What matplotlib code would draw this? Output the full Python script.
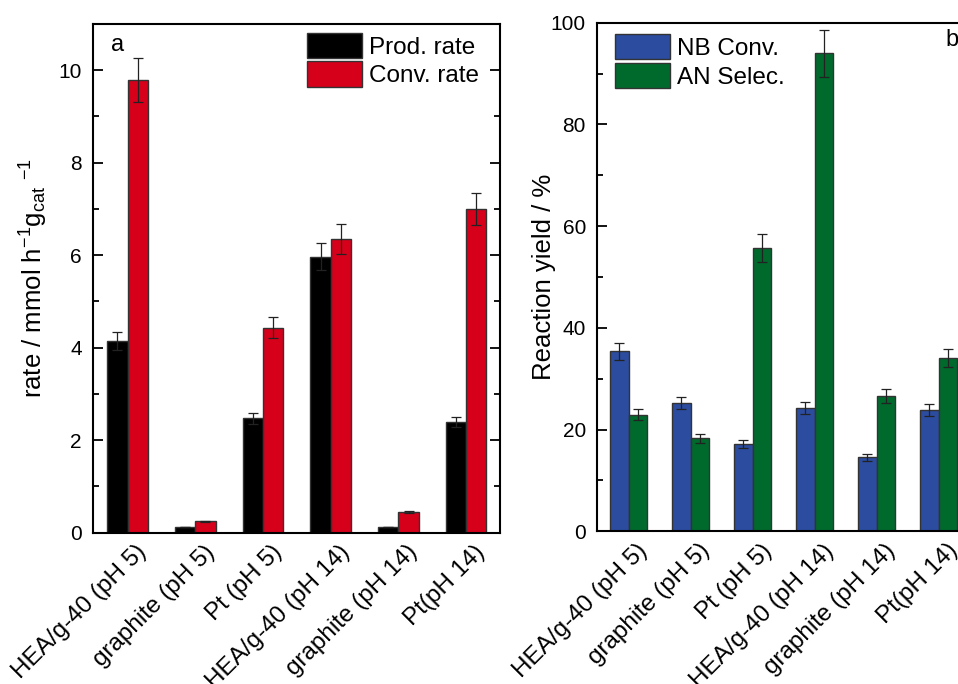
import numpy as np
import matplotlib
matplotlib.use('Agg')
import matplotlib.pyplot as plt
from matplotlib.ticker import MultipleLocator
from matplotlib.transforms import ScaledTranslation

plt.rcParams['font.family'] = ['Liberation Sans', 'DejaVu Sans']
plt.rcParams['mathtext.fontset'] = 'custom'
plt.rcParams['mathtext.rm'] = 'Liberation Sans'
plt.rcParams['mathtext.it'] = 'Liberation Sans'

samples = ['HEA/g-40 (pH 5)', 'graphite (pH 5)', 'Pt (pH 5)',
           'HEA/g-40 (pH 14)', 'graphite (pH 14)', 'Pt(pH 14)']

# panel a: rates (mmol h-1 g_cat-1)
prod_rate = [4.15, 0.12, 2.47, 5.97, 0.12, 2.39]
prod_err = [0.20, 0.0, 0.12, 0.30, 0.0, 0.11]
conv_rate = [9.79, 0.25, 4.43, 6.35, 0.45, 7.00]
conv_err = [0.48, 0.01, 0.23, 0.32, 0.02, 0.35]

# panel b: yields (%)
nb_conv = [35.4, 25.2, 17.2, 24.2, 14.6, 23.8]
nb_err = [1.7, 1.2, 0.85, 1.2, 0.7, 1.2]
an_sel = [22.9, 18.3, 55.7, 94.0, 26.6, 34.1]
an_err = [1.1, 0.9, 2.8, 4.6, 1.4, 1.7]

x = np.arange(1, len(samples) + 1)
w = 0.3
ekw = dict(ecolor='#222222', elinewidth=0.9, capsize=3.8, capthick=0.9)
bar_kw = dict(edgecolor='#333333', linewidth=1.0)
leg_kw = dict(frameon=False, fontsize=17.5, handlelength=2.25, handleheight=1.25,
              labelspacing=0.12, handletextpad=0.3, borderpad=0.15)

fig = plt.figure(figsize=(9.58, 6.84), dpi=100)
ax1 = fig.add_axes([0.0971, 0.2212, 0.4248, 0.7437])
ax2 = fig.add_axes([0.6232, 0.2232, 0.389, 0.7436])


def style(ax):
    for s in ax.spines.values():
        s.set_linewidth(1.5)
    ax.tick_params(axis='y', which='both', direction='in', left=True, right=True,
                   labelsize=15, width=1.3, pad=8)
    ax.tick_params(axis='y', which='major', length=7)
    ax.tick_params(axis='y', which='minor', length=4)
    ax.tick_params(axis='x', length=0, labelsize=17.5, pad=6)
    ax.set_xticks(x)
    ax.set_xticklabels(samples, rotation=45, ha='right', va='top',
                       rotation_mode='anchor')
    shift = ScaledTranslation(0.08, 0, fig.dpi_scale_trans)
    for lab in ax.get_xticklabels():
        lab.set_transform(lab.get_transform() + shift)
    ax.set_xlim(0.49, 6.5)


ax1.bar(x - w / 2, prod_rate, w, yerr=prod_err, color='#000000', label='Prod. rate',
        error_kw=ekw, **bar_kw)
ax1.bar(x + w / 2, conv_rate, w, yerr=conv_err, color='#d7001b', label='Conv. rate',
        error_kw=ekw, **bar_kw)
style(ax1)
ax1.set_ylim(0, 11)
ax1.yaxis.set_major_locator(MultipleLocator(2))
ax1.yaxis.set_minor_locator(MultipleLocator(1))
ax1.set_ylabel(r'rate / mmol h$^{-1}$g$_{\rm cat}$ $^{-1}$', fontsize=18.5)
ax1.yaxis.set_label_coords(-0.105, 0.5)
ax1.text(0.043, 0.958, 'a', transform=ax1.transAxes, fontsize=17, va='center')
ax1.legend(loc='upper right', bbox_to_anchor=(0.97, 1.0), borderaxespad=0.2, **leg_kw)

ax2.bar(x - w / 2, nb_conv, w, yerr=nb_err, color='#2b4c9f', label='NB Conv.',
        error_kw=ekw, **bar_kw)
ax2.bar(x + w / 2, an_sel, w, yerr=an_err, color='#006a2c', label='AN Selec.',
        error_kw=ekw, **bar_kw)
style(ax2)
ax2.set_ylim(0, 100)
ax2.yaxis.set_major_locator(MultipleLocator(20))
ax2.yaxis.set_minor_locator(MultipleLocator(10))
ax2.set_ylabel('Reaction yield / %', fontsize=18.5)
ax2.yaxis.set_label_coords(-0.11, 0.5)
ax2.text(0.934, 0.966, 'b', transform=ax2.transAxes, fontsize=17, va='center')
ax2.legend(loc='upper left', bbox_to_anchor=(0.02, 1.0), borderaxespad=0.3, **leg_kw)

fig.savefig('out.png', dpi=100)
